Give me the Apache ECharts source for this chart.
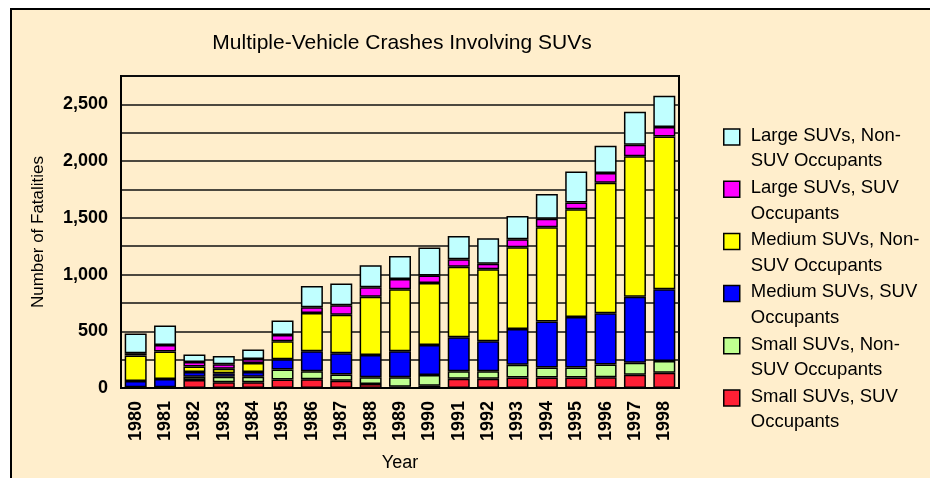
<!DOCTYPE html>
<html>
<head>
<meta charset="utf-8">
<title>Multiple-Vehicle Crashes Involving SUVs</title>
<script src="https://cdn.jsdelivr.net/npm/echarts@6.0.0/dist/echarts.min.js"></script>
<style>
	html, body { margin: 0; padding: 0; background: #fff; overflow: hidden; }
	#frame { position: absolute; left: 10px; top: 8px; width: 940px; height: 490px; border: 2px solid #000; background: #FFEECC; }
	#main { position: absolute; left: 0; top: 0; width: 930px; height: 478px; }
</style>
</head>
<body>
<div id="frame"></div>
<div id="main"></div>
<script>
var years = ['1980', '1981', '1982', '1983', '1984', '1985', '1986', '1987', '1988', '1989',
	'1990', '1991', '1992', '1993', '1994', '1995', '1996', '1997', '1998'];

// stacked bottom -> top
var smallSuv = [3, 3, 70, 50, 50, 75, 77, 64, 35, 10, 20, 81, 81, 93, 93, 93, 95, 117, 134];
var smallNon = [4, 4, 30, 50, 50, 88, 71, 55, 60, 85, 95, 67, 67, 112, 88, 88, 113, 106, 103];
var mediumSuv = [55, 72, 40, 30, 40, 91, 177, 188, 195, 230, 263, 300, 265, 316, 406, 444, 450, 582, 633];
var mediumNon = [225, 243, 50, 40, 80, 157, 335, 339, 514, 545, 547, 620, 633, 720, 830, 951, 1150, 1237, 1346];
var largeSuv = [20, 57, 40, 40, 35, 56, 51, 84, 83, 91, 67, 67, 49, 70, 74, 59, 88, 101, 84];
var largeNon = [174, 171, 66, 71, 85, 129, 188, 190, 195, 203, 246, 205, 225, 206, 218, 274, 239, 292, 277];

var yTicks = [0, 500, 1000, 1500, 2000, 2500];

var names = ['Small SUVs, SUV\nOccupants', 'Small SUVs, Non-\nSUV Occupants',
	'Medium SUVs, SUV\nOccupants', 'Medium SUVs, Non-\nSUV Occupants',
	'Large SUVs, SUV\nOccupants', 'Large SUVs, Non-\nSUV Occupants'];
var values = [smallSuv, smallNon, mediumSuv, mediumNon, largeSuv, largeNon];
var colors = ['#FF2035', '#C0FF90', '#0000FF', '#FFFF00', '#FF00FF', '#C0FFFF'];

var font = 'Liberation Sans, Arial, sans-serif';

var series = [];
for (var i = 0; i < names.length; i++) {
	series.push({
		name: names[i],
		type: 'bar',
		stack: 'total',
		barWidth: 22,
		itemStyle: {
			color: colors[i],
			borderColor: '#000',
			borderWidth: 1.5
		},
		data: values[i]
	});
}

var myChart = echarts.init(document.getElementById('main'));
var option = {
	backgroundColor: 'transparent',
	animation: false,
	title: {
		text: 'Multiple-Vehicle Crashes Involving SUVs',
		left: 397,
		textAlign: 'center',
		top: 28,
		textStyle: {
			fontFamily: font,
			fontSize: 21,
			fontWeight: 'normal',
			color: '#000'
		}
	},
	legend: {
		orient: 'vertical',
		left: 723,
		top: 123,
		padding: 0,
		itemGap: 1.2,
		itemWidth: 22,
		itemHeight: 39,
		icon: 'path://M0,0L16,0L16,16L0,16Z M22,39',
		itemStyle: {
			borderColor: '#000',
			borderWidth: 1.5
		},
		textStyle: {
			fontFamily: font,
			fontSize: 18.5,
			lineHeight: 25.5,
			color: '#000'
		},
		data: names.slice().reverse()
	},
	grid: {
		left: 121,
		right: 251,
		top: 76,
		bottom: 90,
		show: true,
		borderColor: '#000',
		borderWidth: 2,
		outerBoundsMode: 'none'
	},
	xAxis: {
		type: 'category',
		data: years,
		name: 'Year',
		nameLocation: 'middle',
		nameGap: 66,
		nameTextStyle: {
			fontFamily: font,
			fontSize: 18,
			color: '#000'
		},
		axisLine: { lineStyle: { color: '#000', width: 2 } },
		axisTick: { show: false },
		axisLabel: {
			interval: 0,
			rotate: 90,
			margin: 13,
			fontFamily: font,
			fontSize: 18,
			fontWeight: 'bold',
			color: '#000',
			padding: [12, 0, 0, 0]
		}
	},
	yAxis: {
		type: 'value',
		min: 0,
		max: 2750,
		interval: 250,
		name: 'Number of Fatalities',
		nameLocation: 'middle',
		nameGap: 74,
		nameTextStyle: {
			fontFamily: font,
			fontSize: 17,
			color: '#000'
		},
		axisLine: { show: true, lineStyle: { color: '#000', width: 2 } },
		axisTick: { show: false },
		splitLine: { show: true, lineStyle: { color: '#111', width: 1.5 } },
		axisLabel: {
			margin: 13,
			fontFamily: font,
			fontSize: 18,
			fontWeight: 'bold',
			color: '#000',
			formatter: function (v) {
				if (yTicks.indexOf(v) < 0) return '';
				return v.toLocaleString('en-US');
			}
		}
	},
	series: series
};
myChart.setOption(option);
</script>
</body>
</html>
